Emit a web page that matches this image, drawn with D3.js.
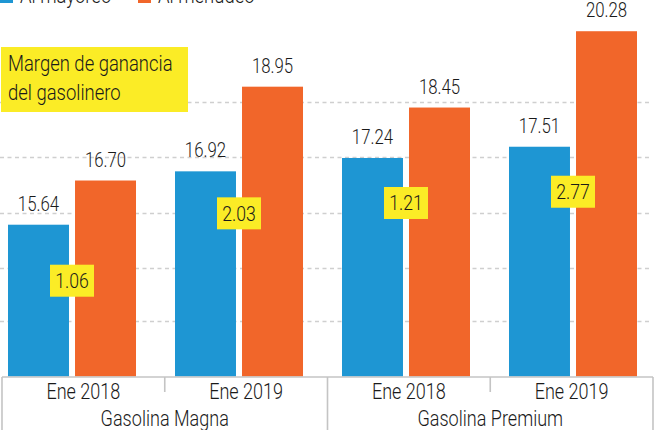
<!DOCTYPE html>
<html>
<head>
<meta charset="utf-8">
<script src="https://cdn.jsdelivr.net/npm/d3@7"></script>
<style>
  body { margin: 0; background: #fff; }
  svg { display: block; }
  text { font-family: Roboto, "Noto Sans", sans-serif; font-weight: 300; fill: #1a1a1a; }
</style>
</head>
<body>
<svg id="chart" width="661" height="430"></svg>
<script>
  'use strict';
  // data
  var periods = ['Ene 2018', 'Ene 2019', 'Ene 2018', 'Ene 2019'];
  var fuels = ['Gasolina Magna', 'Gasolina Premium'];
  var series = ['Al mayoreo', 'Al menudeo'];
  var mayoreo = [15.64, 16.92, 17.24, 17.51];
  var menudeo = [16.70, 18.95, 18.45, 20.28];
  var margen = [1.06, 2.03, 1.21, 2.77];
  var gridValues = [13.32, 14.6, 15.93, 17.26, 18.58];

  var colors = ['#1e96d3', '#f1662a'];
  var yellow = '#fbec26';
  // how far below the blue bar top each margin label sits (px)
  var marginNudge = [56, 42, 45, 45];
  // the original face is a condensed one, squeeze Roboto to match
  var SQUEEZE = 0.84;

  var svg = d3.select('#chart');
  var slots = d3.range(periods.length);

  function place(x, y) {
    return function (d, i) {
      var xx = typeof x === 'function' ? x(d, i) : x;
      var yy = typeof y === 'function' ? y(d, i) : y;
      return 'translate(' + xx + ',' + yy + ') scale(' + SQUEEZE + ',1)';
    };
  }

  var y = d3.scaleLinear().domain([12, 21]).range([376.5, 1.2]);

  var x0 = d3.scaleBand().domain(slots).range([8, 637]).paddingInner(0.2335).paddingOuter(0);
  var x1 = d3.scaleBand().domain([0, 1]).range([0, x0.bandwidth()]).paddingInner(0.09).paddingOuter(0);

  var axisX = d3.scaleBand().domain(slots).range([2, 653]);

  // gridlines
  svg.append('g').selectAll('line').data(gridValues).join('line')
    .attr('x1', 0).attr('x2', 651)
    .attr('y1', function (d) { return Math.round(y(d)) + 0.5; })
    .attr('y2', function (d) { return Math.round(y(d)) + 0.5; })
    .attr('stroke', '#cfcfcf').attr('stroke-width', 1.3)
    .attr('stroke-dasharray', '4,3.5');

  // bars
  var groups = svg.append('g').selectAll('g').data(slots).join('g')
    .attr('transform', function (i) { return 'translate(' + x0(i) + ',0)'; });

  function pair(i) {
    return [{ s: 0, v: mayoreo[i] }, { s: 1, v: menudeo[i] }];
  }

  groups.selectAll('rect').data(pair).join('rect')
    .attr('x', function (d) { return x1(d.s); })
    .attr('width', x1.bandwidth())
    .attr('y', function (d) { return y(d.v); })
    .attr('height', function (d) { return y(12) - y(d.v); })
    .attr('fill', function (d) { return colors[d.s]; });

  groups.selectAll('text.val').data(pair).join('text')
    .attr('class', 'val')
    .attr('transform', place(
      function (d) { return x1(d.s) + x1.bandwidth() / 2; },
      function (d) { return y(d.v) - 14; }))
    .attr('text-anchor', 'middle')
    .attr('font-size', 20)
    .text(function (d) { return d.v.toFixed(2); });

  // margin labels
  var mg = groups.append('g')
    .attr('transform', function (i) {
      return 'translate(' + (x0.bandwidth() / 2) + ',' + (y(mayoreo[i]) + marginNudge[i]) + ')';
    });
  mg.append('rect')
    .attr('x', -22).attr('y', -16).attr('width', 44).attr('height', 32)
    .attr('fill', yellow);
  mg.append('text')
    .attr('text-anchor', 'middle')
    .attr('transform', place(0, 7.5))
    .attr('font-size', 21)
    .text(function (i) { return margen[i].toFixed(2); });

  // annotation
  var note = svg.append('g');
  note.append('rect').attr('x', 1).attr('y', 47).attr('width', 187).attr('height', 65).attr('fill', yellow);
  note.append('text').attr('transform', place(8, 71)).attr('font-size', 22).text('Margen de ganancia');
  note.append('text').attr('transform', place(8, 100)).attr('font-size', 22).text('del gasolinero');

  // legend (top, partly cut off in the original as well)
  var legend = svg.append('g').selectAll('g').data(series).join('g')
    .attr('transform', function (d, i) { return 'translate(' + [0, 138][i] + ',0)'; });
  legend.append('rect').attr('x', 0).attr('y', -10).attr('width', 13).attr('height', 13)
    .attr('fill', function (d, i) { return colors[i]; });
  legend.append('text').attr('transform', place(20, 3)).attr('font-size', 22).text(function (d) { return d; });

  // category axis box
  var axis = svg.append('g').attr('stroke', '#c4c4c4').attr('stroke-width', 1.6).attr('fill', 'none');
  axis.append('line').attr('x1', axisX.range()[0]).attr('x2', axisX.range()[1]).attr('y1', 377).attr('y2', 377);
  slots.concat([periods.length]).forEach(function (i) {
    var xx = i < periods.length ? axisX(i) : axisX.range()[1];
    var full = i % 2 === 0;
    axis.append('line').attr('x1', xx).attr('x2', xx).attr('y1', 377).attr('y2', full ? 430 : 392);
  });

  svg.append('g').selectAll('text').data(slots).join('text')
    .attr('transform', place(function (i) { return axisX(i) + axisX.bandwidth() / 2; }, 399))
    .attr('text-anchor', 'middle')
    .attr('font-size', 21.5)
    .text(function (i) { return periods[i]; });

  svg.append('g').selectAll('text').data(fuels).join('text')
    .attr('transform', place(function (d, i) { return axisX(i * 2) + axisX.bandwidth(); }, 426))
    .attr('text-anchor', 'middle')
    .attr('font-size', 21.5)
    .text(function (d) { return d; });
</script>
</body>
</html>
